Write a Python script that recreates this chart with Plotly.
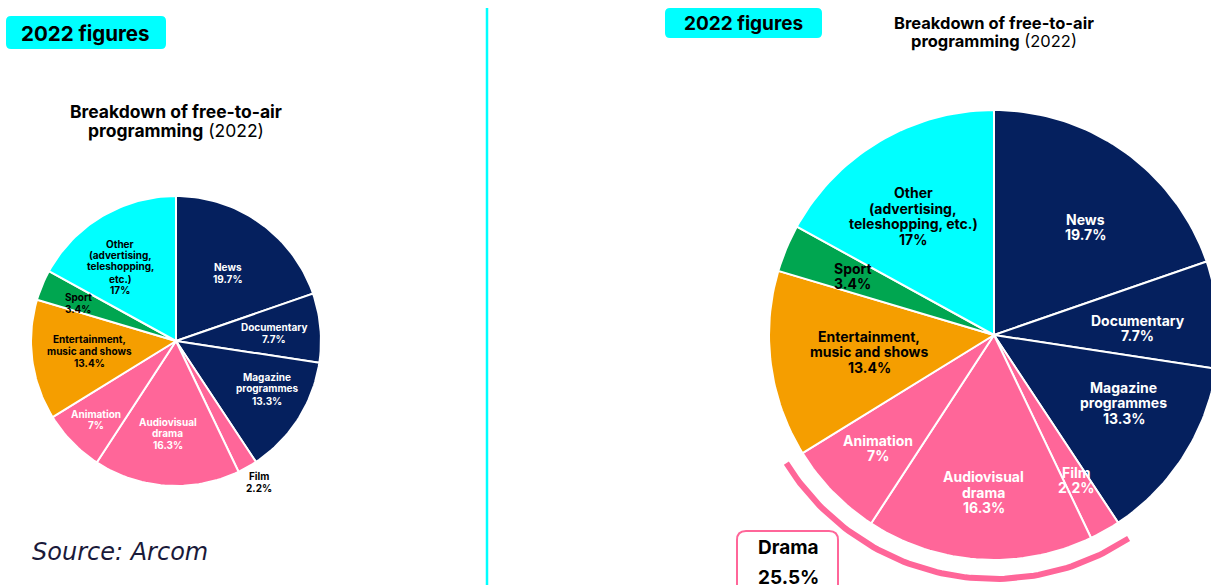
import math
import plotly.graph_objects as go

# ---------------- data ----------------
categories = ["News", "Documentary", "Magazine programmes", "Film", "Audiovisual drama",
              "Animation", "Entertainment, music and shows", "Sport",
              "Other (advertising, teleshopping, etc.)"]
shares = [19.7, 7.7, 13.3, 2.2, 16.3, 7.0, 13.4, 3.4, 17.0]
pct_labels = ["19.7%", "7.7%", "13.3%", "2.2%", "16.3%", "7%", "13.4%", "3.4%", "17%"]
left_names = ["News", "Documentary", "Magazine<br>programmes", "Film", "Audiovisual<br>drama",
              "Animation", "Entertainment,<br>music and shows", "Sport",
              "Other<br>(advertising,<br>teleshopping,<br>etc.)"]
right_names = ["News", "Documentary", "Magazine<br>programmes", "Film", "Audiovisual<br>drama",
               "Animation", "Entertainment,<br>music and shows", "Sport",
               "Other<br>(advertising,<br>teleshopping, etc.)"]
drama_members = ["Film", "Audiovisual drama", "Animation"]
drama_total_label = "25.5%"
badge_text = "2022 figures"
title_lines = ["<b>Breakdown of free-to-air</b>", "<b>programming</b> (2022)"]
source_text = "Source: Arcom"

# ---------------- styles ----------------
NAVY = "#05205E"
PINK = "#FF6699"
CYAN = "#00FFFF"
GREEN = "#00A650"
ORANGE = "#F59E00"
slice_colors = [NAVY, NAVY, NAVY, PINK, PINK, PINK, ORANGE, GREEN, CYAN]
left_text_colors = ["white", "white", "white", "black", "white", "white", "black", "black", "black"]
right_text_colors = ["white", "white", "white", "white", "white", "white", "black", "black", "black"]

FONT = "Inter, 'Open Sans', sans-serif"
W, H = 1211, 585

LEFT = dict(cx=176, cy=341, r=145, font=10, lh=11.7,
            frac=[0.59, 0.68, 0.71, 1.13, 0.64, 0.77, 0.60, 0.72, 0.64],
            doff=[1.9, 0.5, -4.8, -1, 1.2, -0.3, 1, -1.5, -6.5])
RIGHT = dict(cx=994, cy=335, r=225, font=14, lh=15.5,
             frac=[0.63, 0.64, 0.65, 0.74, 0.70, 0.72, 0.56, 0.68, 0.64],
             doff=[5, 2.4, -5, 0, 0, 0, 0, 0, -3.5])

fig = go.Figure()


def pt(cx, cy, r, deg):
    a = math.radians(deg)
    return cx + r * math.sin(a), cy - r * math.cos(a)


def add_lines(x, y, lines, size, color, lh, family=FONT, xanchor="center"):
    n = len(lines)
    for i, ln in enumerate(lines):
        fig.add_annotation(x=x, y=y + (i - (n - 1) / 2) * lh, xref="x", yref="y",
                           showarrow=False, text=ln, xanchor=xanchor, yanchor="middle",
                           font=dict(family=family, size=size, color=color))


def draw_pie(cfg, names, text_colors):
    total = sum(shares)
    start = 0.0
    for i, v in enumerate(shares):
        a0 = start / total * 360
        a1 = (start + v) / total * 360
        n = max(4, int((a1 - a0) / 1.5))
        xs, ys = [cfg["cx"]], [cfg["cy"]]
        for k in range(n + 1):
            x, y = pt(cfg["cx"], cfg["cy"], cfg["r"], a0 + (a1 - a0) * k / n)
            xs.append(x)
            ys.append(y)
        xs.append(cfg["cx"])
        ys.append(cfg["cy"])
        fig.add_trace(go.Scatter(x=xs, y=ys, mode="lines", fill="toself",
                                 fillcolor=slice_colors[i],
                                 line=dict(color="white", width=2),
                                 name=categories[i], hoverinfo="name"))
        m = (a0 + a1) / 2
        lx, ly = pt(cfg["cx"], cfg["cy"], cfg["r"] * cfg["frac"][i], m + cfg["doff"][i])
        lines = ["<b>%s</b>" % s for s in names[i].split("<br>")] + ["<b>%s</b>" % pct_labels[i]]
        add_lines(lx, ly, lines, cfg["font"], text_colors[i], cfg["lh"])
        start += v


draw_pie(LEFT, left_names, left_text_colors)
draw_pie(RIGHT, right_names, right_text_colors)

# drama arc around the right pie
total = sum(shares)
idx = [categories.index(c) for c in drama_members]
a_start = sum(shares[:min(idx)]) / total * 360
a_end = sum(shares[:max(idx) + 1]) / total * 360
arc_r = RIGHT["r"] + 19
n = 80
ax, ay = [], []
for k in range(n + 1):
    x, y = pt(RIGHT["cx"], RIGHT["cy"], arc_r, a_start + (a_end - a_start) * k / n)
    ax.append(x)
    ay.append(y)
fig.add_trace(go.Scatter(x=ax, y=ay, mode="lines", line=dict(color=PINK, width=6),
                         hoverinfo="skip"))


def rounded_rect(x0, y0, x1, y1, rad):
    return ("M %f,%f L %f,%f Q %f,%f %f,%f L %f,%f Q %f,%f %f,%f L %f,%f Q %f,%f %f,%f "
            "L %f,%f Q %f,%f %f,%f Z" % (
                x0 + rad, y0, x1 - rad, y0, x1, y0, x1, y0 + rad,
                x1, y1 - rad, x1, y1, x1 - rad, y1,
                x0 + rad, y1, x0, y1, x0, y1 - rad,
                x0, y0 + rad, x0, y0, x0 + rad, y0))


shapes = [
    dict(type="path", path=rounded_rect(6, 16, 166, 49, 5), xref="x", yref="y",
         fillcolor=CYAN, line=dict(width=0), layer="below"),
    dict(type="path", path=rounded_rect(665, 8, 822, 38, 5), xref="x", yref="y",
         fillcolor=CYAN, line=dict(width=0), layer="below"),
    dict(type="line", x0=487, x1=487, y0=8, y1=590, xref="x", yref="y",
         line=dict(color=CYAN, width=2.5)),
    dict(type="path", path=rounded_rect(737, 531, 838, 600, 9), xref="x", yref="y",
         fillcolor="white", line=dict(color=PINK, width=2)),
]

# badges
add_lines(85, 33, ["<b>%s</b>" % badge_text], 20.5, "black", 0)
add_lines(743, 23, ["<b>%s</b>" % badge_text], 19, "black", 0)
# titles
add_lines(176, 121, title_lines, 17.5, "black", 19)
add_lines(994, 32, title_lines, 16.5, "black", 18.5)
# source
add_lines(30, 552, ["<i>%s</i>" % source_text], 24, "#1a1a3a", 0, family="DejaVu Sans",
          xanchor="left")
# drama callout
add_lines(788, 562, ["<b>Drama</b>", "<b>%s</b>" % drama_total_label], 19, "black", 30)

fig.update_layout(
    width=W, height=H,
    margin=dict(l=0, r=0, t=0, b=0),
    paper_bgcolor="white", plot_bgcolor="white",
    showlegend=False,
    shapes=shapes,
    xaxis=dict(range=[0, W], visible=False, fixedrange=True),
    yaxis=dict(range=[H, 0], visible=False, fixedrange=True),
)

fig.write_html("out.html")
